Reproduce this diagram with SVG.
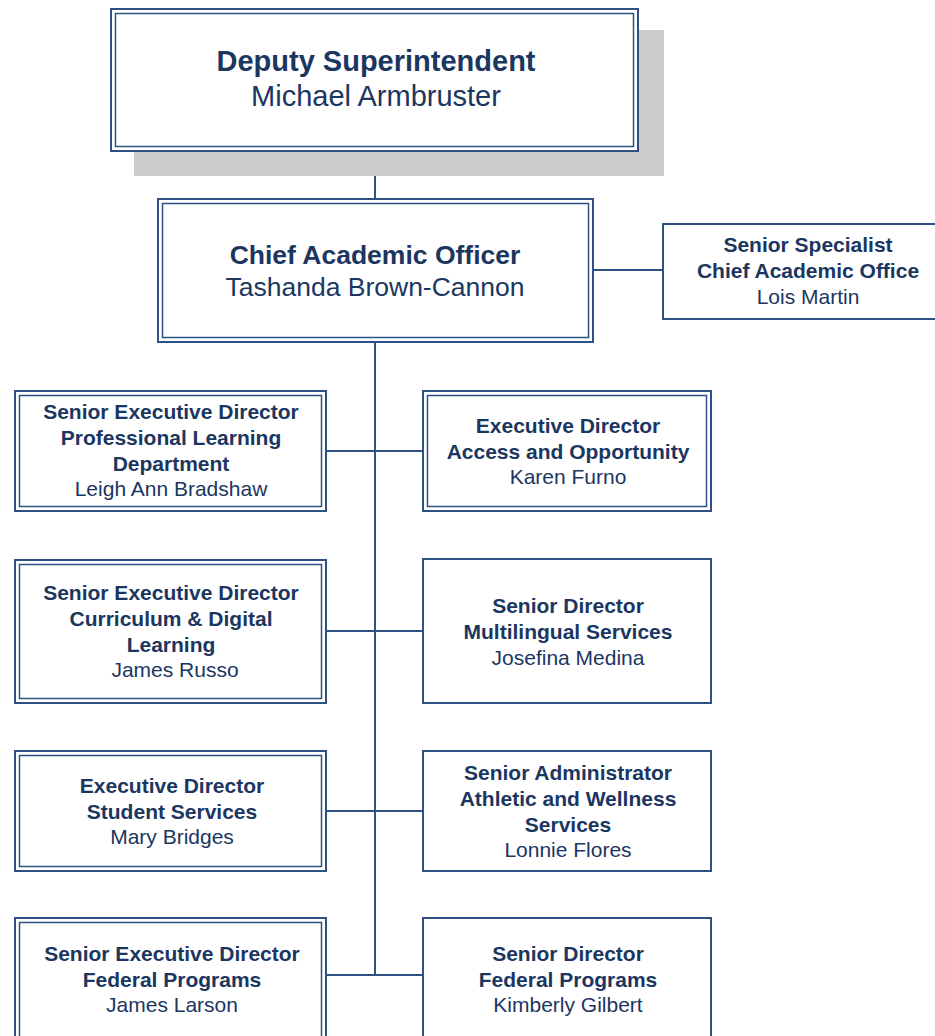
<svg xmlns="http://www.w3.org/2000/svg" width="935" height="1036" viewBox="0 0 935 1036">
<style>
.o{fill:#fff;stroke:#2e5085;stroke-width:2}
.i{fill:none;stroke:#2e5085;stroke-width:1.5}
.s{fill:#fff;stroke:#2e5085;stroke-width:2}
.t{font-family:"Liberation Sans",Arial,sans-serif;fill:#1b365f;text-anchor:middle}
.b{font-weight:bold;font-size:21px}
.r{font-size:21px}
.c{fill:none;stroke:#2e5085;stroke-width:2}
</style>
<rect width="935" height="1036" fill="#fff"/>
<g id="connectors">
<path class="c" d="M375 151V199M375 343V975M593 270H663M325 451H423M325 631H423M325 811H423M325 975H423"/>
</g>
<g id="deputy">
<rect x="134" y="30" width="530" height="146" fill="#cccccc"/>
<rect class="o" x="111" y="9" width="527" height="142"/>
<rect class="i" x="115.5" y="13.5" width="518" height="133"/>
<text class="t" x="376" y="71" font-size="29" font-weight="bold">Deputy Superintendent</text>
<text class="t" x="376" y="106" font-size="29">Michael Armbruster</text>
</g>
<g id="cao">
<rect class="o" x="158" y="199" width="435" height="143"/>
<rect class="i" x="162.5" y="203.5" width="426" height="134"/>
<text class="t" x="375" y="264" font-size="26.5" font-weight="bold">Chief Academic Officer</text>
<text class="t" x="375" y="296" font-size="26.5">Tashanda Brown-Cannon</text>
</g>
<g id="specialist">
<rect class="s" x="663" y="224" width="280" height="95"/>
<text class="t b" x="808" y="252">Senior Specialist</text>
<text class="t b" x="808" y="278">Chief Academic Office</text>
<text class="t r" x="808" y="304">Lois Martin</text>
</g>
<g id="pl">
<rect class="o" x="15" y="391" width="311" height="120"/>
<rect class="i" x="19.5" y="395.5" width="302" height="111"/>
<text class="t b" x="171" y="419">Senior Executive Director</text>
<text class="t b" x="171" y="445">Professional Learning</text>
<text class="t b" x="171" y="471">Department</text>
<text class="t r" x="171" y="496">Leigh Ann Bradshaw</text>
</g>
<g id="access">
<rect class="o" x="423" y="391" width="288" height="120"/>
<rect class="i" x="427.5" y="395.5" width="279" height="111"/>
<text class="t b" x="568" y="433">Executive Director</text>
<text class="t b" x="568" y="459">Access and Opportunity</text>
<text class="t r" x="568" y="484">Karen Furno</text>
</g>
<g id="curriculum">
<rect class="o" x="15" y="560" width="311" height="143"/>
<rect class="i" x="19.5" y="564.5" width="302" height="134"/>
<text class="t b" x="171" y="600">Senior Executive Director</text>
<text class="t b" x="171" y="626">Curriculum &amp; Digital</text>
<text class="t b" x="171" y="652">Learning</text>
<text class="t r" x="175" y="677">James Russo</text>
</g>
<g id="multilingual">
<rect class="s" x="423" y="559" width="288" height="144"/>
<text class="t b" x="568" y="613">Senior Director</text>
<text class="t b" x="568" y="639">Multilingual Services</text>
<text class="t r" x="568" y="665">Josefina Medina</text>
</g>
<g id="student">
<rect class="o" x="15" y="751" width="311" height="120"/>
<rect class="i" x="19.5" y="755.5" width="302" height="111"/>
<text class="t b" x="172" y="793">Executive Director</text>
<text class="t b" x="172" y="819">Student Services</text>
<text class="t r" x="172" y="844">Mary Bridges</text>
</g>
<g id="athletic">
<rect class="s" x="423" y="751" width="288" height="120"/>
<text class="t b" x="568" y="780">Senior Administrator</text>
<text class="t b" x="568" y="806">Athletic and Wellness</text>
<text class="t b" x="568" y="832">Services</text>
<text class="t r" x="568" y="857">Lonnie Flores</text>
</g>
<g id="federal-left">
<rect class="o" x="15" y="918" width="311" height="130"/>
<rect class="i" x="19.5" y="922.5" width="302" height="121"/>
<text class="t b" x="172" y="961">Senior Executive Director</text>
<text class="t b" x="172" y="987">Federal Programs</text>
<text class="t r" x="172" y="1012">James Larson</text>
</g>
<g id="federal-right">
<rect class="s" x="423" y="918" width="288" height="130"/>
<text class="t b" x="568" y="961">Senior Director</text>
<text class="t b" x="568" y="987">Federal Programs</text>
<text class="t r" x="568" y="1012">Kimberly Gilbert</text>
</g>
</svg>
